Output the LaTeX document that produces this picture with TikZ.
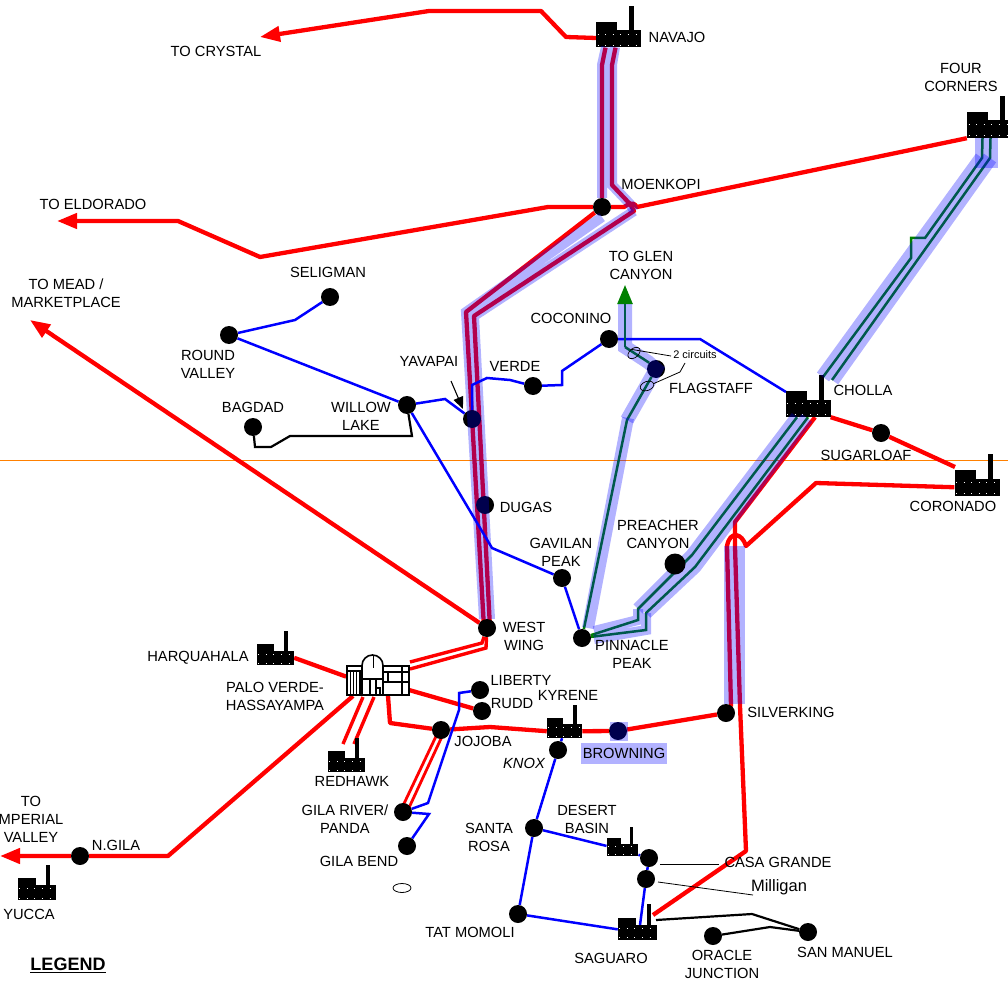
\documentclass[tikz,border=0pt]{standalone}
\usepackage{fontspec}
\setmainfont{Liberation Sans}
\usetikzlibrary{arrows.meta,backgrounds,shapes.geometric}
\tikzset{
	station/.style={circle,fill=black,inner sep=0pt,minimum size=18pt},
	bigstation/.style={station,minimum size=21pt},
	plantbody/.style={rectangle,fill=black,inner sep=0pt},
	place/.style={inner sep=0pt,align=center,font=\fontsize{14.7}{18}\selectfont},
	redline/.style={red,line width=4.3pt,line join=round},
	redthin/.style={red,line width=2.8pt},
	blueline/.style={blue,line width=2.5pt},
	greenline/.style={green!50!black,line width=2.5pt},
	blackline/.style={black,line width=2.2pt},
	leader/.style={black,line width=.8pt},
	redhead/.style={-{Triangle[length=20pt,width=15pt]}},
	halo/.style={blue,opacity=.3,line width=#1},
	halo/.default=10pt
}
% factory symbol: name, centre of its body, size
\newcommand{\plant}[4]{
	\begin{scope}[shift={(#2,#3)},scale=#4]
		\node[plantbody,minimum width=#4*45pt,minimum height=#4*17.5pt] (#1) at (0,0) {};
		\fill [black] (-22.5,0) rectangle (-1.5,-17);
		\fill [black] (10.5,0) rectangle (15.5,-33);
		\draw [white,line width=.4pt,dash pattern=on .6pt off 7pt] (-21,-5) -- (21,-5);
		\draw [white,line width=.4pt,dash pattern=on .6pt off 7pt] (-21,6) -- (21,6);
	\end{scope}
}
\begin{document}
\begin{tikzpicture}[x=1pt,y=-1pt]
	\useasboundingbox (0,0) rectangle (1008,981);

	\plant{navajo}{618.5}{38.75}{1}
	\plant{fourcorners}{989.5}{129.25}{1}
	\plant{cholla}{808}{408.25}{1}
	\plant{coronado}{977}{487.25}{1}
	\plant{harquahala}{275.5}{657.8}{.82}
	\plant{redhawk}{346.5}{764.8}{.82}
	\plant{kyrene}{564.5}{731.2}{.78}
	\plant{desertbasin}{622.5}{849.9}{.7}
	\plant{saguaro}{637.5}{932.4}{.87}
	\plant{yucca}{37}{892.6}{.85}

	\node[station] (moenkopi) at (602,207) {};
	\node[station] (coconino) at (609,339) {};
	\node[station] (flagstaff) at (656,369) {};
	\node[station] (seligman) at (330,297) {};
	\node[station] (roundvalley) at (229,335) {};
	\node[station] (willowlake) at (407,405) {};
	\node[station] (bagdad) at (253,427) {};
	\node[station] (yavapai) at (472,419) {};
	\node[station] (verde) at (533,386) {};
	\node[station] (dugas) at (485,505) {};
	\node[station] (gavilan) at (562,578) {};
	\node[station] (pinnacle) at (582,638) {};
	\node[station] (westwing) at (487,628) {};
	\node[station] (liberty) at (480,690) {};
	\node[station] (rudd) at (482,711) {};
	\node[station] (jojoba) at (441,730) {};
	\node[station] (knox) at (558,750) {};
	\node[station] (browning) at (618,731) {};
	\node[station] (silverking) at (726,713) {};
	\node[station] (sugarloaf) at (881,433) {};
	\node[station] (gilariver) at (403,812) {};
	\node[station] (gilabend) at (407,846) {};
	\node[station] (ngila) at (80,856) {};
	\node[station] (santarosa) at (534,828) {};
	\node[station] (casagrande) at (649,858) {};
	\node[station] (milligan) at (646,879) {};
	\node[station] (tatmomoli) at (518,914) {};
	\node[station] (oracle) at (713,936) {};
	\node[station] (sanmanuel) at (808,932) {};
	\node[draw=black,line width=.8pt,ellipse,fill=white,inner sep=0pt,minimum width=18pt,minimum height=9pt] (smallring) at (402,888) {};

	% palo verde building
	\node[rectangle,draw=black,fill=white,line width=1.8pt,inner sep=0pt,minimum width=62pt,minimum height=29pt] (paloverde) at (378,680.5) {};
	\draw [black,fill=white,line width=1.6pt] (362,680) -- (362,665.5) arc (180:360:10.5) -- (383,680);
	\draw [black,line width=1pt] (373,655) -- (373,668);
	\draw [black,line width=1.6pt] (362,666) -- (362,695) (383,666) -- (383,695) (360,670) -- (360,695);
	\draw [black,line width=1pt] (350,672) -- (350,694) (353,672) -- (353,694) (356,672) -- (356,694);
	\draw [black,line width=1.4pt] (348,671) -- (360,671) (363,679) -- (382,679) (383,672) -- (408,672) (383,682) -- (408,682) (388,672) -- (388,682) (402,666) -- (402,695);
	\draw [black,line width=1.4pt] (370,680) -- (370,695) (376,680) -- (376,695);
	\draw [black,line width=1.2pt] (376,688) rectangle (380,695);

	\begin{scope}[on background layer]
		\draw [orange,line width=.8pt] (0,460) -- (1008,460);
		% red lines
		\draw [redline,redhead] (navajo) -- (566,37) -- (541,11) -- (429,11) -- (260,37);
		\draw [redline,redhead] (fourcorners.south west) -- (637,207) .. controls (632,200) and (628,205) .. (624,207) -- (moenkopi) -- (548,207) -- (260,257) -- (178,221) -- (57,221);
		\draw [redline] ([xshift=-13pt]navajo.south) -- (602,65) -- (moenkopi) -- (466,312) -- ([xshift=-3pt]westwing.center);
		\draw [redline] ([xshift=-3pt]navajo.south) -- (612,65) -- (612,185) -- (630,204) -- (634,211) -- (474,316) -- ([xshift=3pt]westwing.center);
		\draw [redline,redhead] (westwing) -- (30,320);
		\draw [redline] (cholla.south east) -- (sugarloaf) -- (955,467);
		\draw [redline] (coronado.west) -- (816,483) -- (746,546) .. controls (742,533) and (730,530) .. (727,546) -- (731,706) -- (silverking);
		\draw [redline] ([xshift=7pt]cholla.south) -- (735,522) -- (735,547) -- (740,706) -- (746,851) -- (653,915);
		\draw [redline] (harquahala.east) -- (paloverde.173);
		\draw [redline] (409,690) -- (rudd);
		\draw [redline] (388,696) -- (390,723) -- (jojoba);
		\draw [redline] (jojoba) -- (490,727) -- (kyrene.west);
		\draw [redline] (kyrene.east) -- (browning) -- (silverking);
		\draw [redline,redhead] (353,696) -- (168,856) -- (ngila) -- (0,856);
		\draw [red,line width=3.4pt] (410,662) -- (482,643) -- (westwing);
		\draw [red,line width=3.4pt] (410,669) -- (486,648) -- (westwing);
		\draw [red,line width=3.4pt] (363,697) -- (343,744);
		\draw [red,line width=3.4pt] (374,697) -- (354,744);
		\draw [redthin] ([xshift=-2pt]jojoba.center) -- ([xshift=-3pt]gilariver.center);
		\draw [redthin] ([xshift=4pt]jojoba.center) -- ([xshift=4pt]gilariver.center);
		% blue lines
		\draw [blueline] (seligman) -- (295,320) -- (roundvalley);
		\draw [blueline] (roundvalley) -- (willowlake);
		\draw [blueline] (willowlake) -- (445,399) -- (yavapai);
		\draw [blueline] (yavapai) -- (472,385) -- (487,378) -- (510,380) -- (verde);
		\draw [blueline] (verde) -- (562,385) -- (562,371) -- (coconino);
		\draw [blueline] (coconino) -- (700,339) -- (786,392);
		\draw [blueline] (willowlake) -- (492,548) -- (gavilan);
		\draw [blueline] (gavilan) -- (pinnacle);
		\draw [blueline] (liberty) -- (459,693) -- (459,710) -- (428,803) -- (gilariver);
		\draw [blueline] (gilariver) -- (429,814) -- (gilabend);
		\draw [blueline] (kyrene) -- (knox);
		\draw [blueline] (knox) -- (santarosa);
		\draw [blueline] (santarosa) -- (tatmomoli);
		\draw [blueline] (santarosa) -- (desertbasin);
		\draw [blueline] (desertbasin) -- (casagrande);
		\draw [blueline] (casagrande) -- (milligan);
		\draw [blueline] (milligan) -- (640,925);
		\draw [blueline] (tatmomoli) -- (saguaro);
		% black lines
		\draw [blackline] (bagdad) -- (255,447) -- (271,447) -- (290,436) -- (412,436) -- (willowlake);
		\draw [blackline] (656,920) -- (752,914) -- (sanmanuel);
		\draw [blackline] (oracle) -- (770,927) -- (sanmanuel);
		% green lines
		\draw [greenline,-{Triangle[length=19pt,width=15pt]}] (625,347) -- (625,285);
		\draw [greenline] (625,347) -- (648,362) -- (flagstaff) -- (627,420) -- (pinnacle);
		\draw [greenline] ([xshift=-7pt]fourcorners.south) -- (982,158) -- (925,238) -- (911,238) -- (911,258) -- (823,377);
		\draw [greenline] ([xshift=1pt]fourcorners.south) -- (990,158) -- (832,380);
		\draw [greenline] ([xshift=-11pt]cholla.south) -- (692,555) -- (638,609) -- (638,620) -- (pinnacle);
		\draw [greenline] (cholla.south) -- (695,567) -- (646,613) -- (646,630) -- (pinnacle);
	\end{scope}

	% blue shading over the double circuits
	\draw [halo] (606,47) -- (602,65) -- (602,198) (615,47) -- (612,65) -- (612,185) -- (630,204) -- (634,211);
	\draw [halo] (602,217) -- (466,312) -- (484,619) (634,211) -- (474,316) -- (490,619);
	\draw [halo=14pt] (625,304) -- (625,347) -- (648,362) -- (656,369) -- (627,420);
	\draw [halo=12pt] (628,418) -- (588,628);
	\draw [halo=15pt] (982,138) -- (982,168) (990,138) -- (990,168);
	\draw [halo=15pt] (982,158) -- (823,377) (990,158) -- (832,380);
	\draw [halo=13pt] (797,417) -- (692,555) -- (638,609) (807,418) -- (695,567) -- (646,613);
	\draw [halo=10pt] (638,609) -- (638,620) -- (594,631) (646,613) -- (646,630) -- (594,639);
	\draw [halo=21pt] (734.5,546) -- (734.5,704);
	\fill [blue,opacity=.3] (610,722) rectangle (628,741);
	\fill [blue,opacity=.3] (581,743) rectangle (667,764);
	\node[bigstation] (preacher) at (675,564) {};

	% leaders
	\draw [black,line width=1.1pt,-{Triangle[length=12pt,width=10pt]}] (451,381) -- (463,409);
	\draw [leader] (660,864) -- (719,864);
	\draw [leader] (658,882) -- (753,895);
	\node[draw=black,line width=.7pt,ellipse,inner sep=0pt,minimum width=14pt,minimum height=9pt,rotate=40] (ringtop) at (634,353) {};
	\node[draw=black,line width=.7pt,ellipse,inner sep=0pt,minimum width=14pt,minimum height=9pt,rotate=20] (ringlow) at (647,386) {};
	\draw [leader] (ringtop.north) -- (671,356);
	\draw [leader] (ringlow.east) -- (680,372) -- (685,363);

	% labels
	\node[place] (lbcrystal) at (216,51) {TO CRYSTAL};
	\node[place] (lbnavajo) at (677,37) {NAVAJO};
	\node[place] (lbfour) at (961,77) {FOUR\\CORNERS};
	\node[place] (lbeldorado) at (93,204) {TO ELDORADO};
	\node[place] (lbmoenkopi) at (661,184) {MOENKOPI};
	\node[place] (lbglen) at (641,265) {TO GLEN\\CANYON};
	\node[place] (lbseligman) at (328,272) {SELIGMAN};
	\node[place] (lbmead) at (66,293) {TO MEAD /\\MARKETPLACE};
	\node[place] (lbcoconino) at (571,318) {COCONINO};
	\node[place] (lbround) at (208,364) {ROUND\\VALLEY};
	\node[place] (lbyavapai) at (429,361) {YAVAPAI};
	\node[place] (lbverde) at (515,366) {VERDE};
	\node[place,font=\fontsize{11}{13}\selectfont] (lbcircuits) at (695,355) {2 circuits};
	\node[place] (lbflagstaff) at (711,388) {FLAGSTAFF};
	\node[place] (lbcholla) at (863,390) {CHOLLA};
	\node[place] (lbbagdad) at (253,407) {BAGDAD};
	\node[place] (lbwillow) at (361,416) {WILLOW\\LAKE};
	\node[place] (lbsugarloaf) at (866,455) {SUGARLOAF};
	\node[place] (lbcoronado) at (953,506) {CORONADO};
	\node[place] (lbdugas) at (526,507) {DUGAS};
	\node[place] (lbgavilan) at (561,552) {GAVILAN\\PEAK};
	\node[place] (lbpreacher) at (658,534) {PREACHER\\CANYON};
	\node[place] (lbwest) at (524,636) {WEST\\WING};
	\node[place] (lbharqua) at (198,658) {HARQUAHALA};
	\node[place] (lbpinnacle) at (632,654) {PINNACLE\\PEAK};
	\node[place] (lbpalo) at (275,696) {PALO VERDE-\\HASSAYAMPA};
	\node[place] (lbliberty) at (521,680) {LIBERTY};
	\node[place] (lbrudd) at (512,704) {RUDD};
	\node[place] (lbkyrene) at (568,695) {KYRENE};
	\node[place] (lbsilver) at (791,712) {SILVERKING};
	\node[place] (lbjojoba) at (483,741) {JOJOBA};
	\node[place,font=\fontsize{14.7}{18}\selectfont\itshape] (lbknox) at (524,763) {KNOX};
	\node[place] (lbbrowning) at (624,753) {BROWNING};
	\node[place] (lbredhawk) at (352,781) {REDHAWK};
	\node[place] (lbimperial) at (31,819) {TO\\MPERIAL\\VALLEY};
	\node[place] (lbngila) at (116,845) {N.GILA};
	\node[place] (lbdesert) at (587,819) {DESERT\\BASIN};
	\node[place] (lbgila) at (345,819) {GILA RIVER/\\PANDA};
	\node[place] (lbsanta) at (489,837) {SANTA\\ROSA};
	\node[place] (lbgilabend) at (359,861) {GILA BEND};
	\node[place] (lbcasa) at (778,862) {CASA GRANDE};
	\node[place,font=\fontsize{16.5}{18}\selectfont] (lbmilligan) at (779,887) {Milligan};
	\node[place] (lbyucca) at (29,914) {YUCCA};
	\node[place] (lbtat) at (470,932) {TAT MOMOLI};
	\node[place] (lbsaguaro) at (611,958) {SAGUARO};
	\node[place] (lbsan) at (845,952) {SAN MANUEL};
	\node[place] (lboracle) at (722,964) {ORACLE\\JUNCTION};
	\node[place,font=\fontsize{18}{20}\selectfont\bfseries] (lblegend) at (68,965) {\underline{LEGEND}};
\end{tikzpicture}
\end{document}
